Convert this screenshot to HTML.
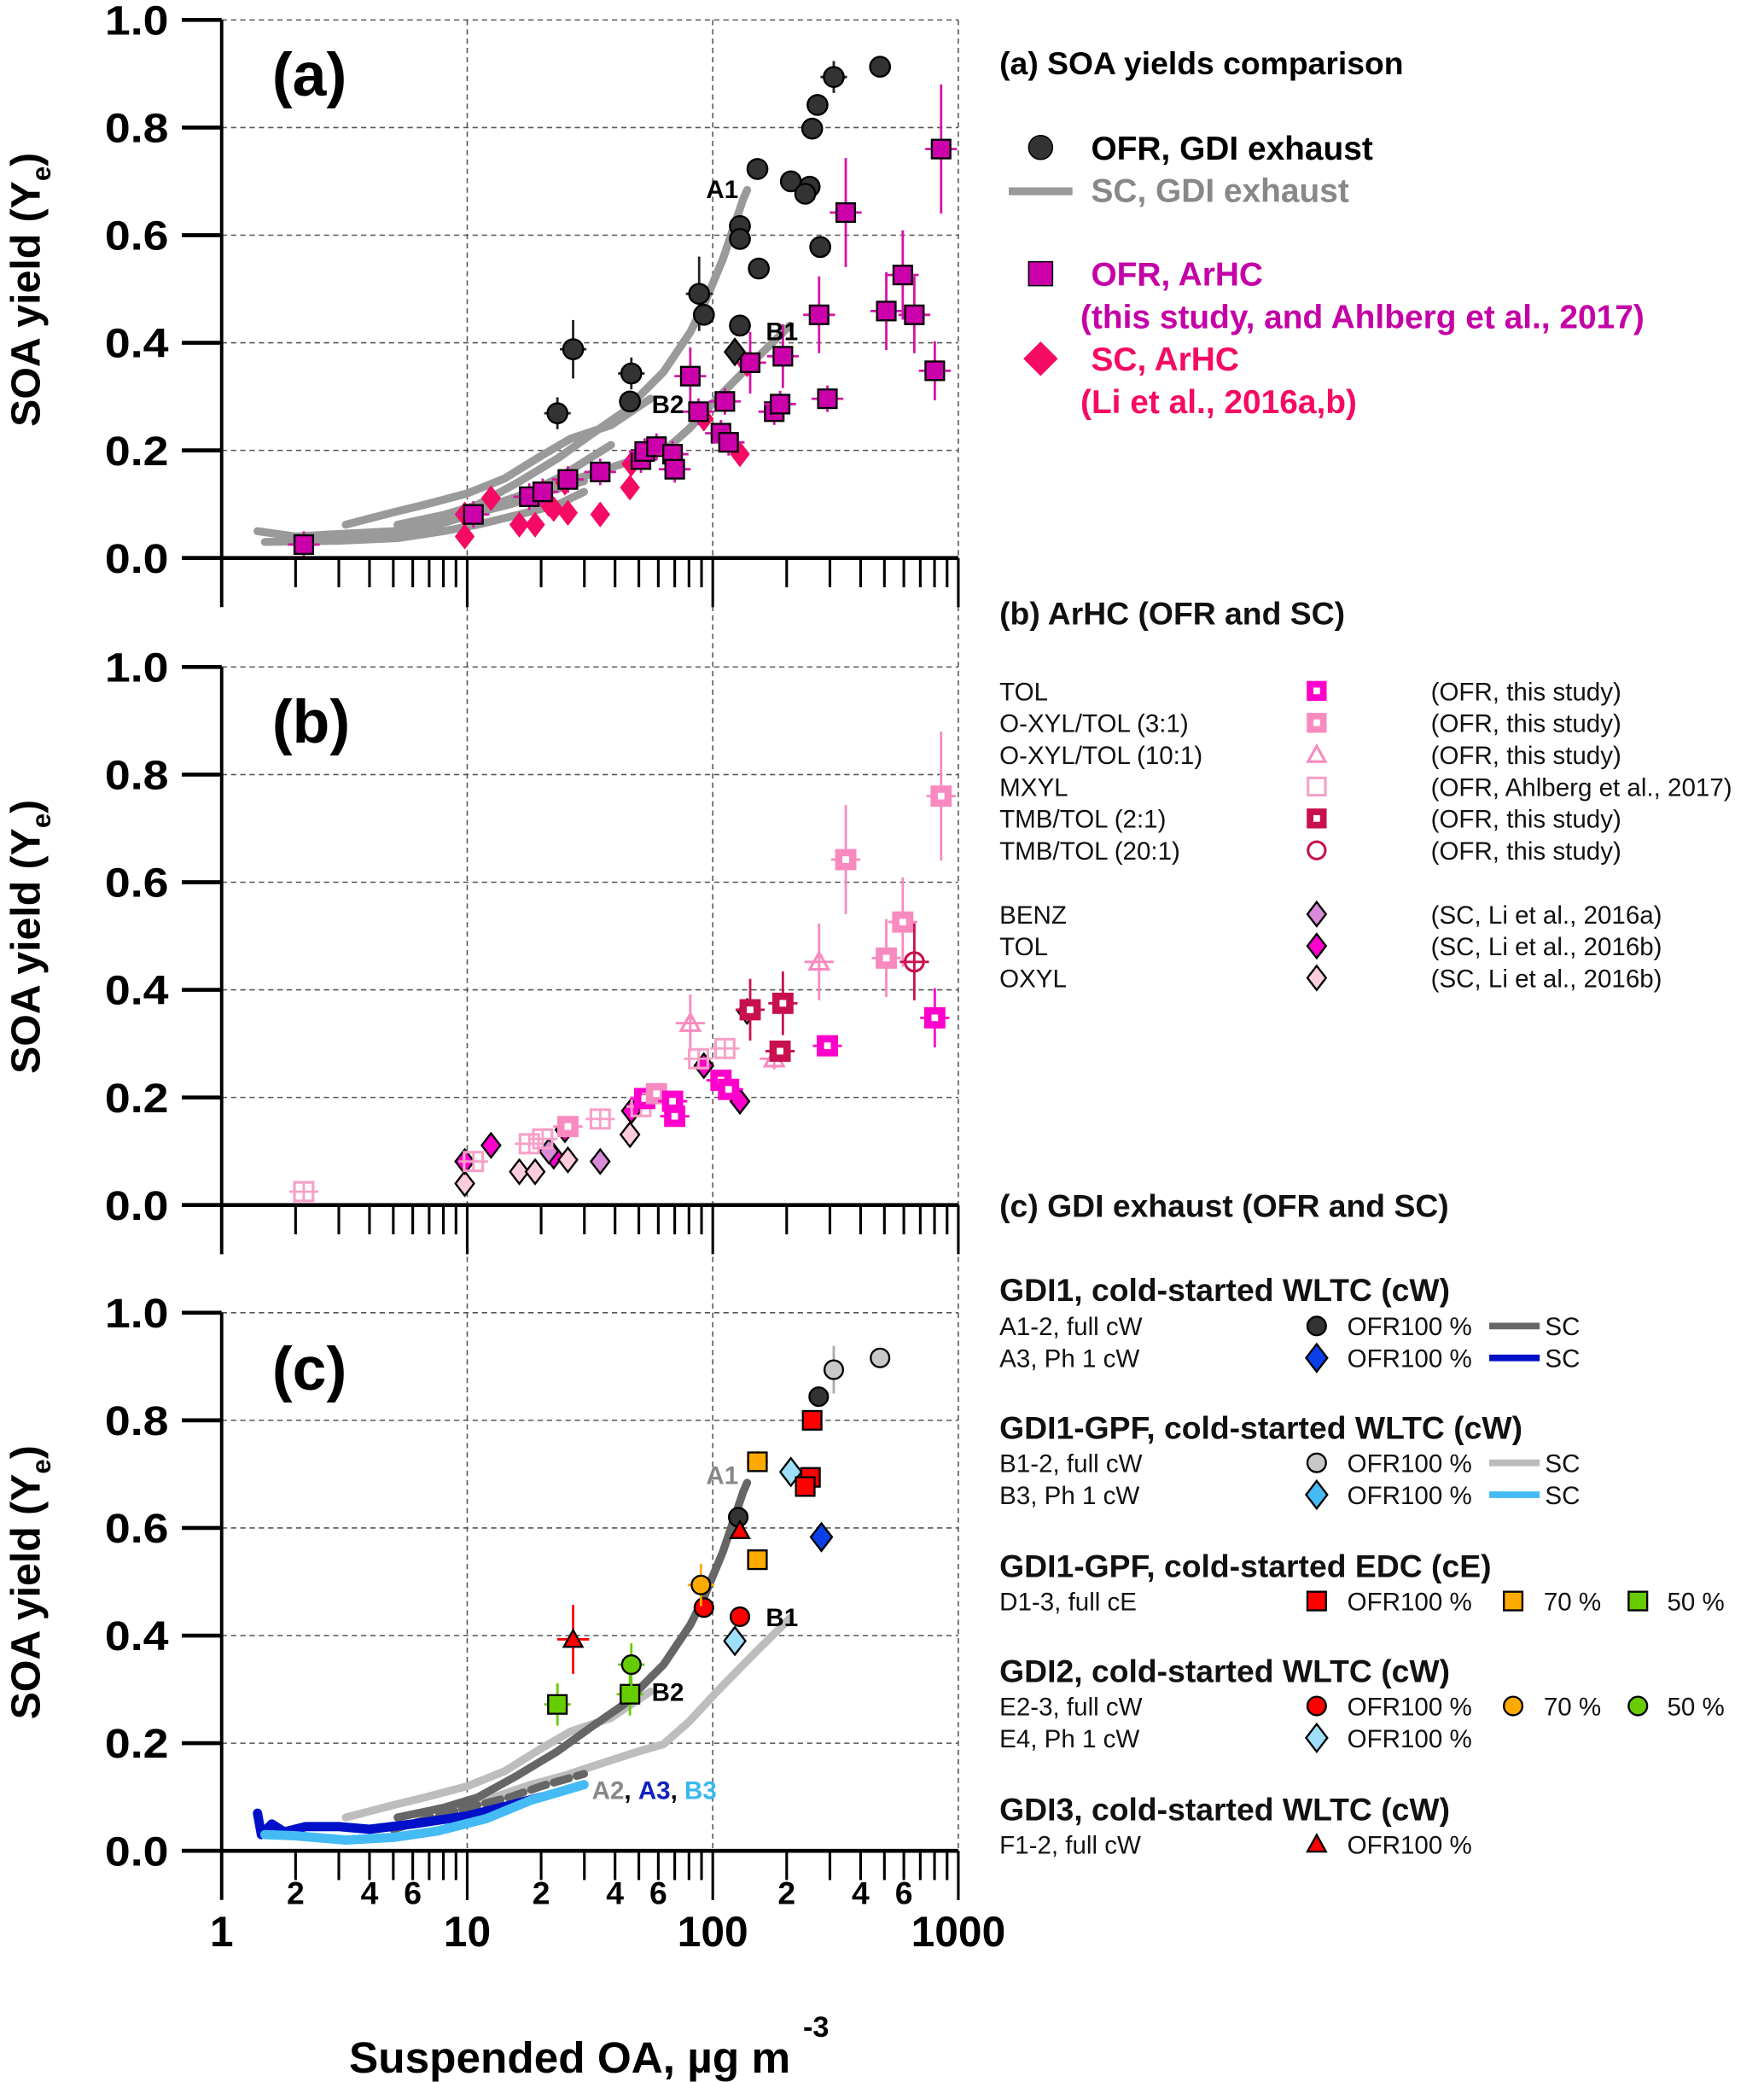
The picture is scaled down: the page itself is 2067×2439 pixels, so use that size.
<!DOCTYPE html>
<html><head><meta charset="utf-8"><style>
html,body{margin:0;padding:0;background:#fff}
svg{display:block}
text{font-family:"Liberation Sans",sans-serif}
</style></head><body>
<svg id="chart" width="2067" height="2439" viewBox="0 0 1329 1567" preserveAspectRatio="none" xmlns="http://www.w3.org/2000/svg">
<g id="grid"></g>
<g id="curves"></g>
<g id="marks"></g>
<g id="axes"></g>
<g font-weight="bold">
<text x="205" y="72" font-size="46">(a)</text>
<text x="205" y="559" font-size="46">(b)</text>
<text x="205" y="1046" font-size="46">(c)</text>
<text x="532" y="149" font-size="19">A1</text>
<text x="577" y="256" font-size="19">B1</text>
<text x="491" y="311" font-size="19">B2</text>
<text x="532" y="1117" font-size="19" fill="#888">A1</text>
<text x="577" y="1224" font-size="19">B1</text>
<text x="491" y="1280" font-size="19">B2</text>
<text x="446" y="1354" font-size="19"><tspan fill="#888">A2</tspan><tspan fill="#000">, </tspan><tspan fill="#1020c0">A3</tspan><tspan fill="#000">, </tspan><tspan fill="#3bb8f0">B3</tspan></text>
<text x="263" y="1560" font-size="33">Suspended OA, µg m</text>
<text x="605" y="1533" font-size="22">-3</text>
</g>
<g font-weight="bold">
<text x="753" y="56" font-size="24">(a) SOA yields comparison</text>
<circle cx="784" cy="111" r="9" fill="#333" stroke="#000"/>
<text x="822" y="120" font-size="25">OFR, GDI exhaust</text>
<line x1="760" y1="144" x2="808" y2="144" stroke="#999" stroke-width="6"/>
<text x="822" y="152" font-size="25" fill="#888">SC, GDI exhaust</text>
<rect x="775" y="197" width="18" height="18" fill="#cc00aa" stroke="#000"/>
<text x="822" y="215" font-size="25" fill="#c400a6">OFR, ArHC</text>
<text x="814" y="247" font-size="25" fill="#c400a6">(this study, and Ahlberg et al., 2017)</text>
<path d="M784 257 L797 270 L784 283 L771 270Z" fill="#f50a64"/>
<text x="822" y="279" font-size="25" fill="#f50a64">SC, ArHC</text>
<text x="814" y="311" font-size="25" fill="#f50a64">(Li et al., 2016a,b)</text>
</g>
<g font-size="19" fill="#111">
<text x="753" y="470" font-size="24" font-weight="bold">(b) ArHC (OFR and SC)</text>
<text x="753" y="527">TOL</text><text x="1078" y="527">(OFR, this study)</text>
<text x="753" y="551">O-XYL/TOL (3:1)</text><text x="1078" y="551">(OFR, this study)</text>
<text x="753" y="575">O-XYL/TOL (10:1)</text><text x="1078" y="575">(OFR, this study)</text>
<text x="753" y="599">MXYL</text><text x="1078" y="599">(OFR, Ahlberg et al., 2017)</text>
<text x="753" y="623">TMB/TOL (2:1)</text><text x="1078" y="623">(OFR, this study)</text>
<text x="753" y="647">TMB/TOL (20:1)</text><text x="1078" y="647">(OFR, this study)</text>
<text x="753" y="695">BENZ</text><text x="1078" y="695">(SC, Li et al., 2016a)</text>
<text x="753" y="719">TOL</text><text x="1078" y="719">(SC, Li et al., 2016b)</text>
<text x="753" y="743">OXYL</text><text x="1078" y="743">(SC, Li et al., 2016b)</text>
</g>
<g id="legb"></g>
<g fill="#111">
<text x="753" y="916" font-size="24" font-weight="bold">(c) GDI exhaust (OFR and SC)</text>
<g font-size="24" font-weight="bold">
<text x="753" y="979">GDI1, cold-started WLTC (cW)</text>
<text x="753" y="1083">GDI1-GPF, cold-started WLTC (cW)</text>
<text x="753" y="1187">GDI1-GPF, cold-started EDC (cE)</text>
<text x="753" y="1266">GDI2, cold-started WLTC (cW)</text>
<text x="753" y="1370">GDI3, cold-started WLTC (cW)</text>
</g>
<g font-size="19">
<text x="753" y="1005">A1-2, full cW</text><text x="1015" y="1005">OFR100 %</text><text x="1164" y="1005">SC</text>
<text x="753" y="1029">A3, Ph 1 cW</text><text x="1015" y="1029">OFR100 %</text><text x="1164" y="1029">SC</text>
<text x="753" y="1108">B1-2, full cW</text><text x="1015" y="1108">OFR100 %</text><text x="1164" y="1108">SC</text>
<text x="753" y="1132">B3, Ph 1 cW</text><text x="1015" y="1132">OFR100 %</text><text x="1164" y="1132">SC</text>
<text x="753" y="1212">D1-3, full cE</text><text x="1015" y="1212">OFR100 %</text><text x="1163" y="1212">70 %</text><text x="1256" y="1212">50 %</text>
<text x="753" y="1291">E2-3, full cW</text><text x="1015" y="1291">OFR100 %</text><text x="1163" y="1291">70 %</text><text x="1256" y="1291">50 %</text>
<text x="753" y="1315">E4, Ph 1 cW</text><text x="1015" y="1315">OFR100 %</text>
<text x="753" y="1395">F1-2, full cW</text><text x="1015" y="1395">OFR100 %</text>
</g>
<line x1="1122" y1="998" x2="1160" y2="998" stroke="#666" stroke-width="5"/>
<line x1="1122" y1="1022" x2="1160" y2="1022" stroke="#0010c8" stroke-width="5"/>
<line x1="1122" y1="1101" x2="1160" y2="1101" stroke="#bbb" stroke-width="5"/>
<line x1="1122" y1="1125" x2="1160" y2="1125" stroke="#44bbf5" stroke-width="5"/>
</g>
<g id="legc"></g>
</svg>
<script>
// ---- data ----
const gdiOA = [480,311,267,254,152,208,248,238,129,129,274,154,88,92,129,27,46.6,46,23.3];
const gdiY  = [0.913,0.894,0.842,0.798,0.723,0.70,0.69,0.677,0.617,0.593,0.578,0.538,0.491,0.452,0.432,0.388,0.343,0.291,0.269];
const arOA  = [2.16,10.6,17.9,20.3,25.7,34.8,51,52.8,59,68.6,70,81,87.5,112,108,116,142,178,193,188,271,293,348,509,594,662,802,851];
const arY   = [0.025,0.081,0.114,0.123,0.146,0.160,0.183,0.198,0.207,0.193,0.165,0.338,0.272,0.291,0.232,0.215,0.363,0.272,0.375,0.286,0.452,0.296,0.642,0.459,0.526,0.452,0.348,0.760];
const arType= ['mx','mx','mx','mx','o3','mx','mx','tol','o3','tol','tol','tri','mx','mx','tol','tol','tmb','tri','tmb','tmb','tri','tol','o3','o3','o3','circ','tol','o3'];
const scOA  = [9.77,9.77,12.5,16.3,18.9,22.5,25.7,34.8,46,46.6,92,129,138,21.5,25];
const scY   = [0.040,0.081,0.111,0.062,0.062,0.091,0.084,0.081,0.131,0.175,0.259,0.193,0.36,0.10,0.14];
const scType= ['oxyl','tol','tol','oxyl','oxyl','tol','oxyl','benz','oxyl','tol','tol','tol','benz','benz','tol'];
// panel c points
const cOA   = [270,127,311,480,277,208,123,254,250,238,152,152,23.3,46,92,129,89.5,46.6,27,129];
const cY    = [0.844,0.62,0.894,0.916,0.583,0.704,0.39,0.80,0.694,0.677,0.723,0.541,0.272,0.291,0.452,0.435,0.494,0.346,0.393,0.595];
const cType = ['dc','dc','lc','lc','bd','lbd','lbd','rs','rs','rs','os','os','gs','gs','rc','rc','oc','gc','rt','rt'];
// SC curves [OA], [yield]
const cvA1x=[5.2,8,11,16,23.3,32,43.5,63,81,91.7,110,133,138], cvA1y=[0.062,0.08,0.099,0.14,0.185,0.23,0.272,0.346,0.42,0.469,0.556,0.667,0.684];
const cvB1x=[7.6,12,18.2,25,33.9,50,63,80,104,150,206], cvB1y=[0.074,0.095,0.123,0.14,0.16,0.185,0.198,0.24,0.296,0.37,0.432];
const cvB2x=[3.2,5,6.7,10,14.2,20,26.4,38.5,55.7], cvB2y=[0.062,0.085,0.099,0.12,0.148,0.19,0.222,0.247,0.296];
const cvA2x=[1.4,2,2.8,5,7.6,14.2,23.3,38.5], cvA2y=[0.05,0.04,0.044,0.05,0.062,0.1,0.148,0.21];
const cvLx=[1.5,3,5.2,8,11,16,23.3,29.9], cvLy=[0.03,0.032,0.037,0.05,0.062,0.08,0.099,0.123];
const cvA3x=[1.4,1.45,1.6,1.8,2.2,3,4,6,10,15,20], cvA3y=[0.07,0.03,0.05,0.035,0.045,0.045,0.04,0.05,0.065,0.085,0.1];
const cvB3x=[1.5,2,3.2,5,7.6,12,18.2,29.9], cvB3y=[0.03,0.028,0.02,0.025,0.037,0.06,0.094,0.123];
const cvC2x=[5,7,10,15,20,29.9], cvC2y=[0.04,0.06,0.08,0.1,0.12,0.143];
const yTicks=['0.0','0.2','0.4','0.6','0.8','1.0'];
const xDecLabels=['1','10','100','1000'];
const xMinorLabels=['2','4','6'];
// ---- axes ----
const NS='http://www.w3.org/2000/svg';
const X=v=>167+185*Math.log10(v);
const panels=[420,907,1393];
const Y=(p,v)=>panels[p]-405*v;
function el(tag,attrs,parent){const e=document.createElementNS(NS,tag);for(const k in attrs)e.setAttribute(k,attrs[k]);parent.appendChild(e);return e;}
const G=document.getElementById('grid'),A=document.getElementById('axes'),C=document.getElementById('curves'),M=document.getElementById('marks');
[10,100,1000].forEach(v=>{const l=el('line',{x1:X(v),x2:X(v),y1:15,y2:1430,stroke:'#555','stroke-width':1,'stroke-dasharray':'4,3'},G);

});
panels.forEach((y0,p)=>{
 yTicks.forEach((t,i)=>{const v=+t;const yy=Y(p,v);
  if(v>0){const g=el('line',{x1:167,x2:722,y1:yy,y2:yy,stroke:'#555','stroke-width':1,'stroke-dasharray':'4,3'},G);
   
   }
  el('line',{x1:137,x2:167,y1:yy,y2:yy,stroke:'#000','stroke-width':3},A);
  const tx=el('text',{x:127,y:yy+11,'font-size':31,'font-weight':'bold','text-anchor':'end',textLength:48,lengthAdjust:'spacingAndGlyphs'},A);tx.textContent=t;
  
  
 });
 el('line',{x1:137,x2:722,y1:y0,y2:y0,stroke:'#000','stroke-width':3},A);
 el('line',{x1:167,x2:167,y1:y0-405,y2:y0+37,stroke:'#000','stroke-width':2.5},A);
 for(let d=0;d<3;d++)for(let m=2;m<=9;m++){const xx=X(m*Math.pow(10,d));el('line',{x1:xx,x2:xx,y1:y0,y2:y0+22,stroke:'#000','stroke-width':2},A);}
 for(let d=1;d<=3;d++){const xx=X(Math.pow(10,d));el('line',{x1:xx,x2:xx,y1:y0,y2:y0+37,stroke:'#000','stroke-width':2},A);}
 const yt=el('text',{transform:`translate(30,${y0-202}) rotate(-90)`,'font-size':31,'font-weight':'bold','text-anchor':'middle'},A);
 
 
 yt.innerHTML='SOA yield (Y<tspan font-size="20" dy="8">e</tspan><tspan dy="-8">)</tspan>';
});
for(let d=0;d<3;d++)xMinorLabels.forEach(t=>{const tx=el('text',{x:X(+t*Math.pow(10,d)),y:1433,'font-size':24,'font-weight':'bold','text-anchor':'middle'},A);tx.textContent=t;
 
 });
xDecLabels.forEach(t=>{const tx=el('text',{x:X(+t),y:1465,'font-size':32,'font-weight':'bold','text-anchor':'middle'},A);tx.textContent=t;
 
 });
// ---- curves ----
function curve(xs,ys,p,col,w,dash,name){const d=xs.map((v,i)=>(i?'L':'M')+X(v).toFixed(1)+' '+Y(p,ys[i]).toFixed(1)).join(' ');
 const e=el('path',{d:d,fill:'none',stroke:col,'stroke-width':w,'stroke-linejoin':'round','stroke-linecap':'round'},C);
 if(dash)e.setAttribute('stroke-dasharray',dash);
 
 }
[[cvA1x,cvA1y],[cvB1x,cvB1y],[cvB2x,cvB2y],[cvA2x,cvA2y],[cvLx,cvLy],[cvC2x,cvC2y]].forEach(c=>curve(c[0],c[1],0,'#9a9a9a',6,null,'sc-gdi-curve'));
curve(cvB1x,cvB1y,2,'#bdbdbd',6,null,'curve-b1');
curve(cvB2x,cvB2y,2,'#bdbdbd',6,null,'curve-b2');
curve(cvA1x,cvA1y,2,'#666',6,null,'curve-a1');
curve(cvC2x,cvC2y,2,'#666',6,'12,6','curve-a2');
curve(cvA3x,cvA3y,2,'#0010c8',7,null,'curve-a3');
curve(cvB3x,cvB3y,2,'#44bbf5',7,null,'curve-b3');
// ---- markers ----
function eb(x,y,dx,dy,col){if(dy)el('line',{x1:x,x2:x,y1:y-dy,y2:y+dy,stroke:col,'stroke-width':1.8},M);if(dx)el('line',{x1:x-dx,x2:x+dx,y1:y,y2:y,stroke:col,'stroke-width':1.8},M);}
function sym(kind,x,y,fill,stroke,r,par,name){let e;par=par||M;r=r||8;
 if(kind==='c')e=el('circle',{cx:x,cy:y,r:r},par);
 else if(kind==='s')e=el('rect',{x:x-r,y:y-r,width:2*r,height:2*r},par);
 else if(kind==='d')e=el('path',{d:`M${x} ${y-r*1.3}L${x+r} ${y}L${x} ${y+r*1.3}L${x-r} ${y}Z`},par);
 else e=el('path',{d:`M${x} ${y-r}L${x+r} ${y+r*0.8}L${x-r} ${y+r*0.8}Z`},par);
 e.setAttribute('fill',fill);e.setAttribute('stroke',stroke);e.setAttribute('stroke-width',1.5);
 
 return e;}
// panel a
scOA.forEach((v,i)=>{sym('d',X(v),Y(0,scY[i]),'#f50a64','none',7.5,M,'sc-arhc-point');});
arOA.forEach((v,i)=>{const x=X(v),y=Y(0,arY[i]);eb(x,y,12,arY[i]>0.3?0.12*405*arY[i]/0.76:10,'#d414a8');sym('s',x,y,'#cc00aa','#000',7,M,'ofr-arhc-point');});
gdiOA.forEach((v,i)=>{const x=X(v),y=Y(0,gdiY[i]);if(i===1||i===12||i===15||i===16||i===18)eb(x,y,10,i===15?22:(i===12?28:12),'#222');sym('c',X(v),y,'#333','#000',7.5,M,'ofr-gdi-point');});
sym('d',X(123),Y(0,0.383),'#333','#000',7.5,M,'ofr-gdi-diamond');
// panel b
const bStyle={tol:['s','#f0c','#f0c'],o3:['s','#f88ac0','#f88ac0'],tri:['t','none','#f88ac0'],mx:['s','none','#f7a0c8'],tmb:['s','#c8104f','#c8104f'],circ:['c','none','#c8104f']};
const dStyle={benz:'#d98ad8',tol:'#f0c',oxyl:'#fcd'};
scOA.forEach((v,i)=>sym('d',X(v),Y(1,scY[i]),dStyle[scType[i]],'#000',7,M,'sc-arhc-species-point'));
arOA.forEach((v,i)=>{const s=bStyle[arType[i]];const x=X(v),y=Y(1,arY[i]);eb(x,y,11,arY[i]>0.3?0.12*405*arY[i]/0.76:8,s[2]);
 const e=sym(s[0],x,y,s[1],s[2],7,M,'ofr-arhc-species-point');e.setAttribute('stroke-width',2);
 if(s[1]!=='none'){const w=el('rect',{x:x-2.5,y:y-2.5,width:5,height:5,fill:'#fff'},M);
 }});
// panel c
const cStyle={dc:['c','#333'],lc:['c','#c8c8c8'],bd:['d','#0a3fe8'],lbd:['d','#9ee0fa'],rs:['s','#f00'],os:['s','#ffaa00'],gs:['s','#66cc00'],rc:['c','#f00'],oc:['c','#ffaa00'],gc:['c','#66cc00'],rt:['t','#f00']};
cOA.forEach((v,i)=>{const s=cStyle[cType[i]];const x=X(v),y=Y(2,cY[i]);
 if(i===2)eb(x,y,0,18,'#aaa');if(i===12||i===13||i===16||i===17)eb(x,y,10,16,s[1]);if(i===18)eb(x,y,12,26,'#f00');if(i===10)eb(x,y,8,8,'#ffaa00');
 sym(s[0],x,y,s[1],'#000',s[0]==='d'?8:7,M,'gdi-point');});
// legend symbols
const LB=document.getElementById('legb');
[['s','#f0c','#f0c',520],['s','#f88ac0','#f88ac0',544],['t','none','#f88ac0',568],['s','none','#f7a0c8',592],['s','#c8104f','#c8104f',616],['c','none','#c8104f',640]].forEach(a=>{
 const e=sym(a[0],992,a[3],a[1],a[2],6.5,LB,'legend-b-symbol');e.setAttribute('stroke-width',2);
 if(a[1]!=='none'){const w=el('rect',{x:989.5,y:a[3]-2.5,width:5,height:5,fill:'#fff'},LB);
 }});
[['#d98ad8',688],['#f0c',712],['#fcd',736]].forEach(a=>sym('d',992,a[1],a[0],'#000',7,LB,'legend-b-diamond'));
const LC=document.getElementById('legc');
[['c','#333',992,998],['d','#0a3fe8',992,1022],['c','#c8c8c8',992,1101],['d','#44bbf5',992,1125],['s','#f00',992,1205],['s','#ffaa00',1140,1205],['s','#66cc00',1234,1205],
 ['c','#f00',992,1284],['c','#ffaa00',1140,1284],['c','#66cc00',1234,1284],['d','#9ee0fa',992,1308],['t','#f00',992,1388]].forEach(a=>sym(a[0],a[2],a[3],a[1],'#000',a[0]==='d'?8:7,LC,'legend-c-symbol'));
</script>
</body></html>
